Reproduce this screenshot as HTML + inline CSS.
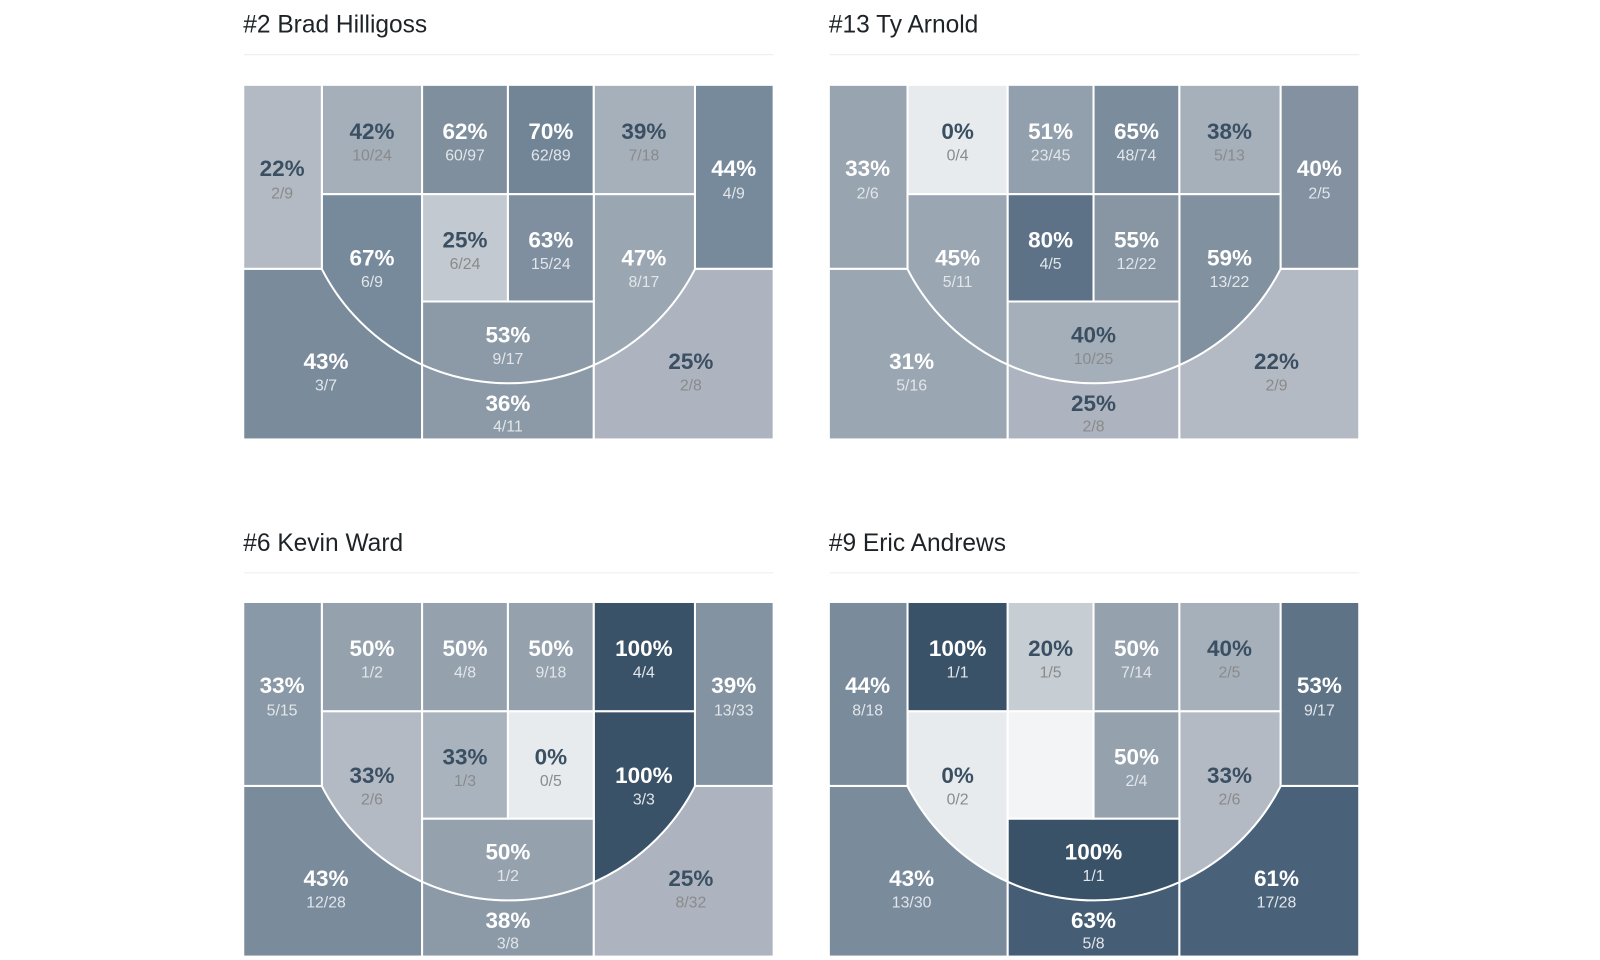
<!DOCTYPE html>
<html><head><meta charset="utf-8"><style>
body{margin:0;background:#fff;width:1600px;height:960px;overflow:hidden}
svg{display:block}
.t{font-family:"Liberation Sans",sans-serif;font-size:24px;fill:#1d2327}
.p{font-family:"Liberation Sans",sans-serif;font-weight:bold;font-size:22px;text-anchor:middle}
.f{font-family:"Liberation Sans",sans-serif;font-size:15.5px;text-anchor:middle}
.w{fill:#fff}.wf{fill:#e2e6ea}.d{fill:#3b4f63}.df{fill:#8a8a8a}
rect{stroke:#fff;stroke-width:2}
.arc{fill:none;stroke:#fff;stroke-width:2}
</style></head><body>
<svg width="1600" height="960" viewBox="0 0 1600 960">
<defs><clipPath id="arc" clipPathUnits="userSpaceOnUse"><circle cx="259.5" cy="87" r="205"/></clipPath></defs>
<g transform="scale(1.022)">
<text class="t" x="238" y="32">#2 Brad Hilligoss</text>
<rect x="238" y="52" width="520" height="3" fill="#e8eef0" stroke="none"/>
<text class="t" x="811" y="32">#13 Ty Arnold</text>
<rect x="811" y="52" width="520" height="3" fill="#e8eef0" stroke="none"/>
<text class="t" x="238" y="539">#6 Kevin Ward</text>
<rect x="238" y="559" width="520" height="3" fill="#e8eef0" stroke="none"/>
<text class="t" x="811" y="539">#9 Eric Andrews</text>
<rect x="811" y="559" width="520" height="3" fill="#e8eef0" stroke="none"/>

<!-- Panel 1 -->
<g transform="translate(238,83)">
<rect x="0" y="180" width="175" height="167" fill="#7a8b9b"/>
<rect x="175" y="212" width="168" height="135" fill="#8c9aa8"/>
<rect x="343" y="180" width="176" height="167" fill="#adb4bf"/>
<rect x="0" y="0" width="77" height="180" fill="#b3bac3"/>
<rect x="442" y="0" width="77" height="180" fill="#778a9b"/>
<rect x="77" y="0" width="98" height="107" fill="#a4afb9"/>
<rect x="175" y="0" width="84" height="107" fill="#7f8f9e"/>
<rect x="259" y="0" width="84" height="107" fill="#728597"/>
<rect x="343" y="0" width="99" height="107" fill="#a6b0ba"/>
<g clip-path="url(#arc)">
<rect x="77" y="107" width="98" height="260" fill="#768a9b"/>
<rect x="343" y="107" width="99" height="260" fill="#9aa6b2"/>
<rect x="175" y="212" width="168" height="150" fill="#8c9aa8"/>
</g>
<rect x="175" y="107" width="84" height="105" fill="#c2c9d0"/>
<rect x="259" y="107" width="84" height="105" fill="#7f8fa0"/>
<path class="arc" d="M77,180.4 A205,205 0 0 0 442,180.4"/>
<text class="p d" x="38" y="89">22%</text><text class="f df" x="38" y="111">2/9</text>
<text class="p d" x="126" y="53">42%</text><text class="f df" x="126" y="74">10/24</text>
<text class="p w" x="217" y="53">62%</text><text class="f wf" x="217" y="74">60/97</text>
<text class="p w" x="301" y="53">70%</text><text class="f wf" x="301" y="74">62/89</text>
<text class="p d" x="392" y="53">39%</text><text class="f df" x="392" y="74">7/18</text>
<text class="p w" x="480" y="89">44%</text><text class="f wf" x="480" y="111">4/9</text>
<text class="p w" x="126" y="177">67%</text><text class="f wf" x="126" y="198">6/9</text>
<text class="p d" x="217" y="159">25%</text><text class="f df" x="217" y="180">6/24</text>
<text class="p w" x="301" y="159">63%</text><text class="f wf" x="301" y="180">15/24</text>
<text class="p w" x="392" y="177">47%</text><text class="f wf" x="392" y="198">8/17</text>
<text class="p w" x="259" y="252">53%</text><text class="f wf" x="259" y="273">9/17</text>
<text class="p w" x="259" y="319">36%</text><text class="f wf" x="259" y="339">4/11</text>
<text class="p w" x="81" y="278">43%</text><text class="f wf" x="81" y="299">3/7</text>
<text class="p d" x="438" y="278">25%</text><text class="f df" x="438" y="299">2/8</text>
</g>

<!-- Panel 2 -->
<g transform="translate(811,83)">
<rect x="0" y="180" width="175" height="167" fill="#9aa6b2"/>
<rect x="175" y="212" width="168" height="135" fill="#adb4bf"/>
<rect x="343" y="180" width="176" height="167" fill="#b3bac3"/>
<rect x="0" y="0" width="77" height="180" fill="#98a4af"/>
<rect x="442" y="0" width="77" height="180" fill="#8391a0"/>
<rect x="77" y="0" width="98" height="107" fill="#e8ebee"/>
<rect x="175" y="0" width="84" height="107" fill="#929fac"/>
<rect x="259" y="0" width="84" height="107" fill="#7b8c9c"/>
<rect x="343" y="0" width="99" height="107" fill="#a6b0ba"/>
<g clip-path="url(#arc)">
<rect x="77" y="107" width="98" height="260" fill="#9aa6b2"/>
<rect x="343" y="107" width="99" height="260" fill="#8291a0"/>
<rect x="175" y="212" width="168" height="150" fill="#a4afb9"/>
</g>
<rect x="175" y="107" width="84" height="105" fill="#5d7287"/>
<rect x="259" y="107" width="84" height="105" fill="#8896a4"/>
<path class="arc" d="M77,180.4 A205,205 0 0 0 442,180.4"/>
<text class="p w" x="38" y="89">33%</text><text class="f wf" x="38" y="111">2/6</text>
<text class="p d" x="126" y="53">0%</text><text class="f df" x="126" y="74">0/4</text>
<text class="p w" x="217" y="53">51%</text><text class="f wf" x="217" y="74">23/45</text>
<text class="p w" x="301" y="53">65%</text><text class="f wf" x="301" y="74">48/74</text>
<text class="p d" x="392" y="53">38%</text><text class="f df" x="392" y="74">5/13</text>
<text class="p w" x="480" y="89">40%</text><text class="f wf" x="480" y="111">2/5</text>
<text class="p w" x="126" y="177">45%</text><text class="f wf" x="126" y="198">5/11</text>
<text class="p w" x="217" y="159">80%</text><text class="f wf" x="217" y="180">4/5</text>
<text class="p w" x="301" y="159">55%</text><text class="f wf" x="301" y="180">12/22</text>
<text class="p w" x="392" y="177">59%</text><text class="f wf" x="392" y="198">13/22</text>
<text class="p d" x="259" y="252">40%</text><text class="f df" x="259" y="273">10/25</text>
<text class="p d" x="259" y="319">25%</text><text class="f df" x="259" y="339">2/8</text>
<text class="p w" x="81" y="278">31%</text><text class="f wf" x="81" y="299">5/16</text>
<text class="p d" x="438" y="278">22%</text><text class="f df" x="438" y="299">2/9</text>
</g>

<!-- Panel 3 -->
<g transform="translate(238,589)">
<rect x="0" y="180" width="175" height="167" fill="#7a8b9b"/>
<rect x="175" y="212" width="168" height="135" fill="#8c9aa8"/>
<rect x="343" y="180" width="176" height="167" fill="#adb4bf"/>
<rect x="0" y="0" width="77" height="180" fill="#8a99a7"/>
<rect x="442" y="0" width="77" height="180" fill="#8393a1"/>
<rect x="77" y="0" width="98" height="107" fill="#95a2ae"/>
<rect x="175" y="0" width="84" height="107" fill="#95a2ae"/>
<rect x="259" y="0" width="84" height="107" fill="#95a2ae"/>
<rect x="343" y="0" width="99" height="107" fill="#3a5268"/>
<g clip-path="url(#arc)">
<rect x="77" y="107" width="98" height="260" fill="#b3bac3"/>
<rect x="343" y="107" width="99" height="260" fill="#3a5268"/>
<rect x="175" y="212" width="168" height="150" fill="#95a2ae"/>
</g>
<rect x="175" y="107" width="84" height="105" fill="#a9b3bd"/>
<rect x="259" y="107" width="84" height="105" fill="#e8ebee"/>
<path class="arc" d="M77,180.4 A205,205 0 0 0 442,180.4"/>
<text class="p w" x="38" y="89">33%</text><text class="f wf" x="38" y="111">5/15</text>
<text class="p w" x="126" y="53">50%</text><text class="f wf" x="126" y="74">1/2</text>
<text class="p w" x="217" y="53">50%</text><text class="f wf" x="217" y="74">4/8</text>
<text class="p w" x="301" y="53">50%</text><text class="f wf" x="301" y="74">9/18</text>
<text class="p w" x="392" y="53">100%</text><text class="f wf" x="392" y="74">4/4</text>
<text class="p w" x="480" y="89">39%</text><text class="f wf" x="480" y="111">13/33</text>
<text class="p d" x="126" y="177">33%</text><text class="f df" x="126" y="198">2/6</text>
<text class="p d" x="217" y="159">33%</text><text class="f df" x="217" y="180">1/3</text>
<text class="p d" x="301" y="159">0%</text><text class="f df" x="301" y="180">0/5</text>
<text class="p w" x="392" y="177">100%</text><text class="f wf" x="392" y="198">3/3</text>
<text class="p w" x="259" y="252">50%</text><text class="f wf" x="259" y="273">1/2</text>
<text class="p w" x="259" y="319">38%</text><text class="f wf" x="259" y="339">3/8</text>
<text class="p w" x="81" y="278">43%</text><text class="f wf" x="81" y="299">12/28</text>
<text class="p d" x="438" y="278">25%</text><text class="f df" x="438" y="299">8/32</text>
</g>

<!-- Panel 4 -->
<g transform="translate(811,589)">
<rect x="0" y="180" width="175" height="167" fill="#7a8b9b"/>
<rect x="175" y="212" width="168" height="135" fill="#455e75"/>
<rect x="343" y="180" width="176" height="167" fill="#4a6279"/>
<rect x="0" y="0" width="77" height="180" fill="#7a8b9b"/>
<rect x="442" y="0" width="77" height="180" fill="#5f7387"/>
<rect x="77" y="0" width="98" height="107" fill="#3a5268"/>
<rect x="175" y="0" width="84" height="107" fill="#c6cdd3"/>
<rect x="259" y="0" width="84" height="107" fill="#95a2ae"/>
<rect x="343" y="0" width="99" height="107" fill="#a6b0ba"/>
<g clip-path="url(#arc)">
<rect x="77" y="107" width="98" height="260" fill="#e8ebee"/>
<rect x="343" y="107" width="99" height="260" fill="#b3bac3"/>
<rect x="175" y="212" width="168" height="150" fill="#3a5268"/>
</g>
<rect x="175" y="107" width="84" height="105" fill="#f3f4f6"/>
<rect x="259" y="107" width="84" height="105" fill="#95a2ae"/>
<path class="arc" d="M77,180.4 A205,205 0 0 0 442,180.4"/>
<text class="p w" x="38" y="89">44%</text><text class="f wf" x="38" y="111">8/18</text>
<text class="p w" x="126" y="53">100%</text><text class="f wf" x="126" y="74">1/1</text>
<text class="p d" x="217" y="53">20%</text><text class="f df" x="217" y="74">1/5</text>
<text class="p w" x="301" y="53">50%</text><text class="f wf" x="301" y="74">7/14</text>
<text class="p d" x="392" y="53">40%</text><text class="f df" x="392" y="74">2/5</text>
<text class="p w" x="480" y="89">53%</text><text class="f wf" x="480" y="111">9/17</text>
<text class="p d" x="126" y="177">0%</text><text class="f df" x="126" y="198">0/2</text>
<text class="p w" x="301" y="159">50%</text><text class="f wf" x="301" y="180">2/4</text>
<text class="p d" x="392" y="177">33%</text><text class="f df" x="392" y="198">2/6</text>
<text class="p w" x="259" y="252">100%</text><text class="f wf" x="259" y="273">1/1</text>
<text class="p w" x="259" y="319">63%</text><text class="f wf" x="259" y="339">5/8</text>
<text class="p w" x="81" y="278">43%</text><text class="f wf" x="81" y="299">13/30</text>
<text class="p w" x="438" y="278">61%</text><text class="f wf" x="438" y="299">17/28</text>
</g>
</g>
</svg>
</body></html>
